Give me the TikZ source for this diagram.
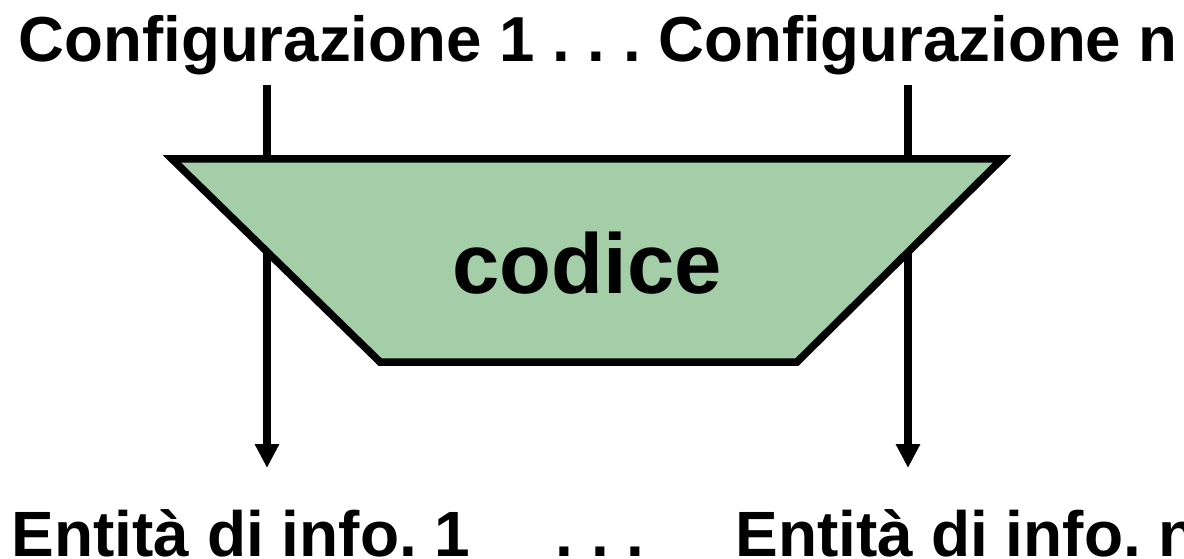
\documentclass[tikz,border=0pt]{standalone}
\usepackage{fontspec}
\setmainfont{Liberation Sans}
\usepackage{xcolor}
\usepackage{tikz}
\usetikzlibrary{calc,arrows.meta,positioning}
\definecolor{codgreen}{RGB}{163,206,168}
\frenchspacing

\begin{document}
\begin{tikzpicture}[x=1pt, y=-1pt, line width=7.5pt,
  tag/.style = {inner sep=0pt, anchor=base west, font=\fontsize{#1}{#1}\selectfont\bfseries},
  wire/.style = {draw, line width=7.5pt},
  flow/.style = {wire, -{Triangle[width=23pt,length=24pt]}}]
\useasboundingbox (0,0) rectangle (1184,559);
% trapezoid
\coordinate (tl) at (172,159);
\coordinate (tr) at (1002,159);
\coordinate (br) at (797,362);
\coordinate (bl) at (380,362);
\draw[fill=codgreen, line join=miter] (tl) -- (tr) -- (br) -- (bl) -- cycle;
\node (code) [inner sep=0pt, anchor=base, font=\fontsize{85}{85}\selectfont\bfseries] at (587,293) {codice};
% texts
\node (cfg) [tag=63.6] at (15,62) {Configurazione 1 . . . Configurazione n};
\node (ent1) [tag=64] at (8,556) {Entità di info. 1};
\node (dots) [tag=64] at (552,556) {. . .};
\node (entn) [tag=64] at (732,556) {Entità di info. n};
% connectors
\coordinate (in1) at (267,85);
\coordinate (inn) at (908,85);
\coordinate (out1) at (267,252);
\coordinate (outn) at (908,252);
\coordinate (end1) at (267,468);
\coordinate (endn) at (908,468);
\draw[wire] (in1) -- (in1 |- tl);
\draw[wire] (inn) -- (inn |- tr);
\draw[flow] (out1) -- (end1);
\draw[flow] (outn) -- (endn);
\end{tikzpicture}
\end{document}
